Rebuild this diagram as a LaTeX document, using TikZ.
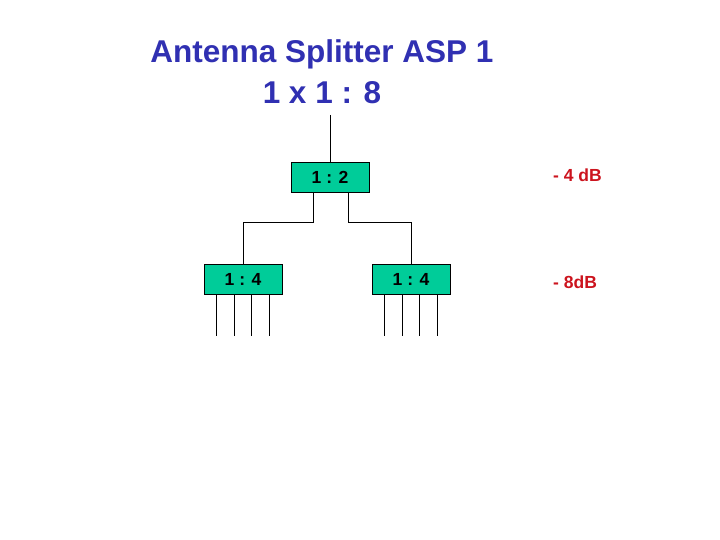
\documentclass[tikz,border=0pt]{standalone}
\usepackage{fontspec}
\setmainfont{Liberation Sans}
\usetikzlibrary{positioning,calc}
\definecolor{titleblue}{RGB}{48,48,178}
\definecolor{splitgreen}{RGB}{0,204,153}
\definecolor{lossred}{RGB}{204,20,30}
\tikzset{
  split/.style={draw=black,fill=splitgreen,line width=0.8pt,minimum width=78pt,minimum height=30pt,
    inner sep=0pt,font=\bfseries\fontsize{17.5}{20}\selectfont},
  wire/.style={line width=0.8pt,draw=black},
  loss/.style={text=lossred,font=\bfseries\fontsize{17.5}{20}\selectfont,anchor=west,inner sep=0pt},
}
\begin{document}
\begin{tikzpicture}[x=1pt,y=-1pt]
    \useasboundingbox (0,0) rectangle (720,540);
    % title
    \node[text=titleblue,font=\bfseries\fontsize{31.5}{41}\selectfont,align=center] (title) at (322,72)
      {Antenna Splitter ASP 1\\1 x 1 : 8};
    \coordinate (feed) at (330,115);

    % splitter tree
    \node[split] (s2) at (330,177) {1 : 2};
    \node[split] (s4a) at (243,279) {1 : 4};
    \node[split] (s4b) at (411,279) {1 : 4};
    \draw[wire] (feed)--(s2.north);
    \draw[wire] ([xshift=-17pt]s2.south) -- ++(0,30) -| (s4a.north);
    \draw[wire] ([xshift=18pt]s2.south) -- ++(0,30) -| (s4b.north);

    % outputs
    \foreach \dx in {-26.5,-8.8,8.8,26.5}{
      \draw[wire] ([xshift=\dx pt]s4a.south) -- ++(0,42);
      \draw[wire] ([xshift=\dx pt]s4b.south) -- ++(0,42);
    }

    % losses
    \node[loss] (l4) at (553,175) {- 4 dB};
    \node[loss] (l8) at (553,282) {- 8dB};
  \end{tikzpicture}
\end{document}
